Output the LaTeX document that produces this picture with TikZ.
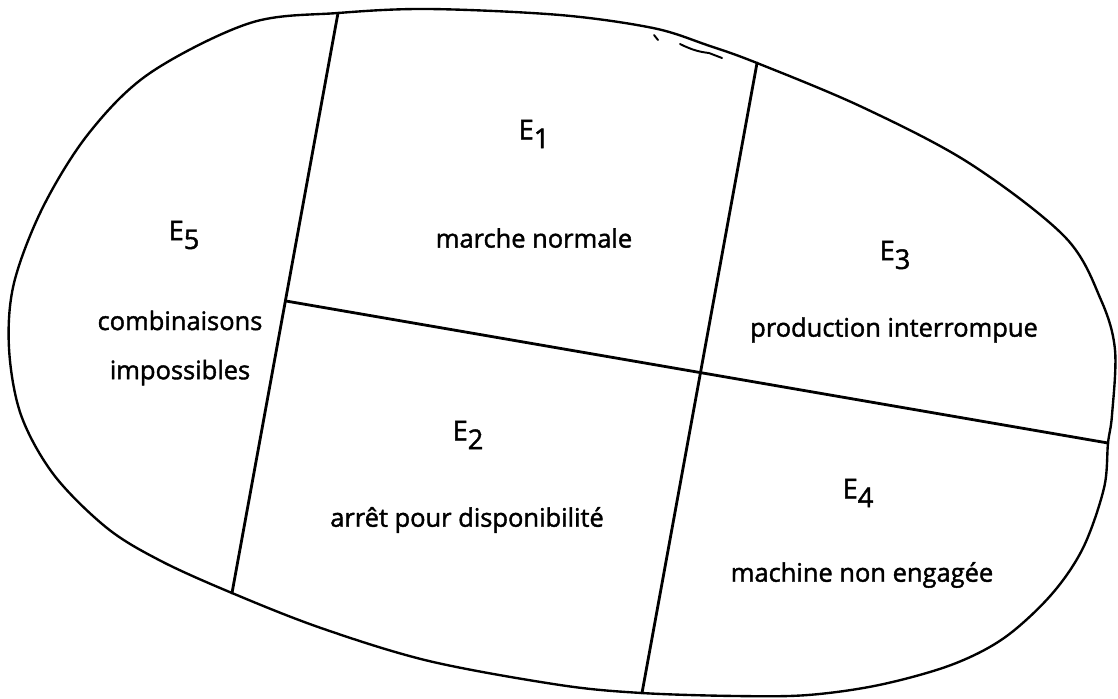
\documentclass[tikz,border=0pt]{standalone}
\usepackage{fontspec}
\setmainfont{Open Sans}
\newfontfamily\statefont{Open Sans}[FakeBold=1.6]
\usetikzlibrary{calc}

\begin{document}
\begin{tikzpicture}[x=0.02cm,y=-0.02cm,
    rim/.style={line width=1.35pt,line join=round},
    divide/.style={line width=1.6pt,line cap=round},
    pencil/.style={line width=1.1pt,line cap=round},
    stname/.style={font=\statefont\fontsize{15.5}{18}\selectfont,inner sep=1pt},
    desc/.style={font=\statefont\fontsize{14.5}{28}\selectfont,align=center,inner sep=1pt}]
  \useasboundingbox (0,0) rectangle (1118,698);
  % outer boundary
  \draw[rim] plot[smooth cycle,tension=0.55] coordinates {
    (338,13) (429,9) (560,15) (653,28) (707,45) (757,63) (862,107) (969,163)
    (1065,237) (1101,300) (1115,350) (1112,415) (1108,443) (1104,488) (1083,548)
    (1051,595) (1004,638) (951,665) (879,685) (808,695) (737,696) (642,693)
    (560,685) (429,661) (321,628) (232,593) (161,561) (107,528) (54,475)
    (21,415) (9,348) (14,283) (43,207) (89,133) (150,73) (250,23)};
  % pencil marks near the top
  \draw[pencil] (654,35) -- (658,40);
  \draw[pencil] (680,44) .. controls (692,50) and (700,52) .. (709,53) -- (722,58);
  % dividing lines
  \coordinate (lt) at (338,13);
  \coordinate (lb) at (232,593);
  \coordinate (rt) at (757,63);
  \coordinate (rb) at (642,693);
  \coordinate (hl) at (286,301);
  \coordinate (hr) at (1108,443);
  \draw[divide] (lt) -- (lb);
  \draw[divide] (rt) -- (rb);
  \draw[divide] (hl) -- (hr);
  % states
  \foreach \n/\x/\y in {1/534/134,2/468/435,3/895/255,4/858/493,5/184/235}
    \node[stname] (e\n) at (\x,\y) {E\raisebox{-0.6ex}{\n}};
  \node[desc] (d1) at (534,238) {marche normale};
  \node[desc] (d2) at (467,520) {arrêt pour disponibilité};
  \node[desc] (d3) at (894,330) {production interrompue};
  \node[desc] (d4) at (862,575) {machine non engagée};
  \node[desc] (d5) at (180,348) {combinaisons\\impossibles};
\end{tikzpicture}
\end{document}
